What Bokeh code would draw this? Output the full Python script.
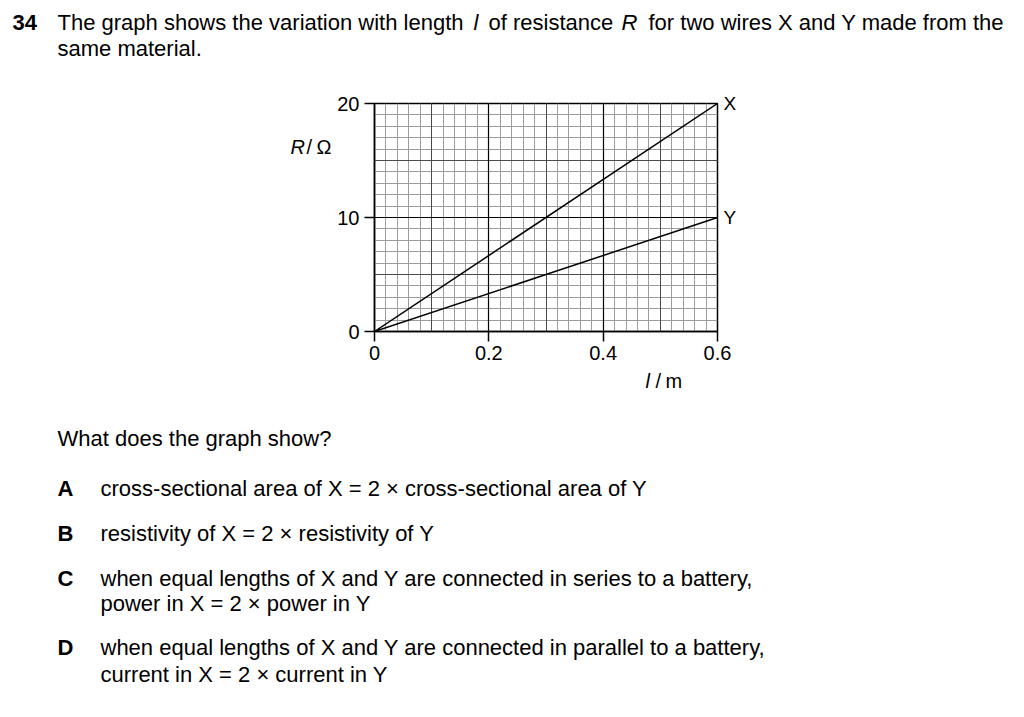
from bokeh.plotting import figure
from bokeh.models import (Range1d, FixedTicker, Grid, Label, LinearAxis,
                          CustomJSTickFormatter)
from bokeh.layouts import column, row
from bokeh.embed import file_html
from bokeh.resources import INLINE

# ---------------- data ----------------
length_m = [0.0, 0.6]
r_wire_x = [0.0, 20.0]
r_wire_y = [0.0, 10.0]
wire_names = ["X", "Y"]
x_ticks = [0, 0.2, 0.4, 0.6]
y_ticks = [0, 10, 20]
x_minor = [round(i * 0.02, 2) for i in range(31)]
x_mid = [0.1, 0.3, 0.5]
x_major = [0.2, 0.4]
y_minor = list(range(21))
y_mid = [5, 15]
y_major = [10]

question_number = "34"
question_line1 = ["The graph shows the variation with length", "l", "of resistance", "R",
                  "for two wires X and Y made from the"]
question_line1_styles = ["normal", "italic", "normal", "italic", "normal"]
question_line2 = "same material."
y_title = ["R", "/", "Ω"]
x_title = ["l", "/", "m"]
prompt = "What does the graph show?"
option_letters = ["A", "B", "C", "D"]
option_texts = [
    ["cross-sectional area of X = 2 × cross-sectional area of Y"],
    ["resistivity of X = 2 × resistivity of Y"],
    ["when equal lengths of X and Y are connected in series to a battery,",
     "power in X = 2 × power in Y"],
    ["when equal lengths of X and Y are connected in parallel to a battery,",
     "current in X = 2 × current in Y"],
]

FONT = "Liberation Sans"
PAGE_W = 1016
BODY = "22px"
CHART_TOP = 80
CHART_BOTTOM = 368


def text_fig(w, h, y_top):
    f = figure(width=w, height=h, x_range=Range1d(0, w),
               y_range=Range1d(y_top + h, y_top), min_border=0,
               x_axis_location=None, y_axis_location=None,
               output_backend="svg", toolbar_location=None)
    f.outline_line_color = None
    f.grid.visible = False
    f.background_fill_color = "white"
    f.border_fill_color = "white"
    return f


def put(f, text, x, y, size=BODY, style="normal"):
    f.add_layout(Label(x=x, y=y, text=text, text_font=FONT, text_font_size=size,
                       text_font_style=style, text_color="black",
                       text_align="left", text_baseline="middle"))


# ---------------- header ----------------
header = text_fig(PAGE_W, CHART_TOP, 0)
put(header, question_number, 12, 22, style="bold")
for seg, x0, st in zip(question_line1, [57, 473, 488, 621, 648], question_line1_styles):
    put(header, seg, x0, 22, style=st)
put(header, question_line2, 57, 48)

# ---------------- left of chart (y title) ----------------
left = text_fig(334, CHART_BOTTOM - CHART_TOP, CHART_TOP)
for seg, x0, st in zip(y_title, [290, 306, 316], ["italic", "normal", "normal"]):
    put(left, seg, x0, 135, size="20px", style=st)

# ---------------- chart ----------------
p = figure(frame_width=343, frame_height=228,
           min_border_left=39, min_border_right=20,
           min_border_top=23, min_border_bottom=37,
           x_range=Range1d(0, 0.6), y_range=Range1d(0, 20),
           output_backend="svg", toolbar_location=None)
p.background_fill_color = "white"
p.border_fill_color = "white"
p.outline_line_color = "black"
p.outline_line_width = 1.5
p.xgrid.visible = False
p.ygrid.visible = False

for ax, ticks in ((p.xaxis[0], x_ticks), (p.yaxis[0], y_ticks)):
    ax.ticker = FixedTicker(ticks=ticks)
    ax.formatter = CustomJSTickFormatter(code="return tick.toString()")
    ax.axis_line_color = "black"
    ax.axis_line_width = 1.5
    ax.major_tick_line_color = "black"
    ax.major_tick_line_width = 1.5
    ax.major_tick_out = 10
    ax.major_tick_in = 0
    ax.minor_tick_line_color = None
    ax.major_label_text_font = FONT
    ax.major_label_text_font_size = "20px"
    ax.major_label_text_color = "black"
p.xaxis.major_label_standoff = 4
p.yaxis.major_label_standoff = 5

# wire names at the line ends, as a label-only axis on the right
ends = [r_wire_x[-1], r_wire_y[-1]]
name_axis = LinearAxis(ticker=FixedTicker(ticks=ends),
                       formatter=CustomJSTickFormatter(
                           args=dict(vals=ends, names=wire_names),
                           code="const i = vals.indexOf(tick); return i >= 0 ? names[i] : ''"),
                       axis_line_color=None, major_tick_line_color=None,
                       minor_tick_line_color=None, major_tick_out=0, major_tick_in=0,
                       major_label_standoff=6, major_label_text_font=FONT,
                       major_label_text_font_size="19px", major_label_text_color="black")
p.add_layout(name_axis, "right")

for dim, ticks, color, width in (
        (0, x_minor, "#9c9c9c", 1), (1, y_minor, "#9c9c9c", 1),
        (0, x_mid, "#4a4a4a", 1), (1, y_mid, "#4a4a4a", 1),
        (0, x_major, "black", 1.2), (1, y_major, "black", 1.2)):
    p.add_layout(Grid(dimension=dim, ticker=FixedTicker(ticks=ticks),
                      grid_line_color=color, grid_line_width=width))

for rs in (r_wire_x, r_wire_y):
    p.line(length_m, rs, line_color="black", line_width=1.5)

# ---------------- bottom: x title, prompt and options ----------------
bottom = text_fig(PAGE_W, 709 - CHART_BOTTOM, CHART_BOTTOM)
for seg, x0, st in zip(x_title, [645, 655, 665], ["italic", "normal", "normal"]):
    put(bottom, seg, x0, 380, size="20px", style=st)
put(bottom, prompt, 57, 438)
option_rows = [[488], [533], [578, 603], [647, 674]]
for letter, lines, rows_y in zip(option_letters, option_texts, option_rows):
    put(bottom, letter, 57, rows_y[0], style="bold")
    for line, yy in zip(lines, rows_y):
        put(bottom, line, 100, yy)

page = column(header, row(left, p), bottom)
open("out.html", "w").write(file_html(page, INLINE))
